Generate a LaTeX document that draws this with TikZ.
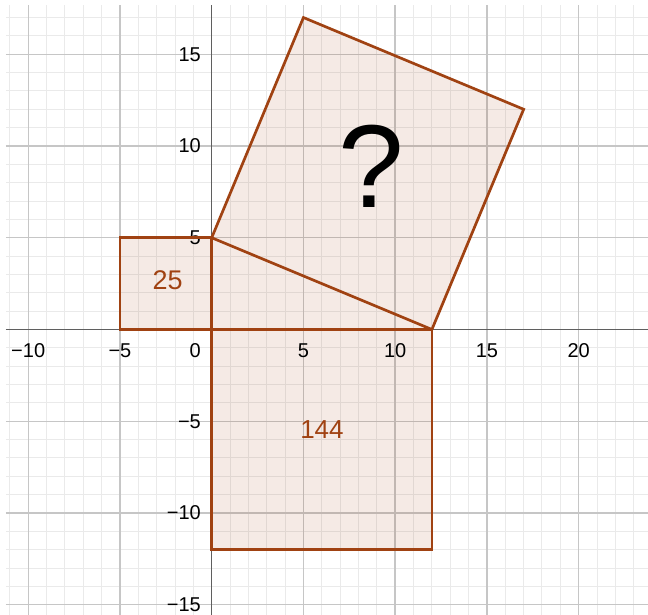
\documentclass[tikz,border=0pt]{standalone}
\usepackage{fontspec}
\setmainfont{Liberation Sans}
\definecolor{poly}{RGB}{160,66,18}
\definecolor{majg}{RGB}{198,198,198}
\definecolor{ming}{RGB}{234,234,234}
\definecolor{axisc}{RGB}{95,95,95}
\tikzset{
  minorline/.style={ming, line width=1pt},
  majorline/.style={majg, line width=1.4pt},
  axisline/.style={axisc, line width=1.5pt},
  polyfill/.style={fill=poly, fill opacity=0.11},
  polyline/.style={draw=poly, line width=2.7pt, line join=miter},
  ticklabel/.style={inner sep=0pt, font=\fontsize{20}{24}\selectfont},
  arealabel/.style={inner sep=0pt, text=poly},
}
\begin{document}
\begin{tikzpicture}[x=18.35pt, y=18.35pt]
\useasboundingbox (-11.537,-15.558) rectangle (23.777,17.956);
\def\gl{-11.21} \def\gr{23.777} \def\gb{-15.558} \def\gt{17.68}
% minor grid
\foreach \i in {-11,...,23} \draw[minorline] (\i,\gb) -- (\i,\gt);
\foreach \j in {-15,...,17} \draw[minorline] (\gl,\j) -- (\gr,\j);
% major grid
\foreach \i in {-10,-5,...,20} \draw[majorline] (\i,\gb) -- (\i,\gt);
\foreach \j in {-15,-10,...,15} \draw[majorline] (\gl,\j) -- (\gr,\j);
% axes
\draw[axisline] (\gl,0) -- (\gr,0);
\draw[axisline] (0,\gb) -- (0,\gt);
% fills
\fill[polyfill] (-5,0) rectangle (0,5);
\fill[polyfill] (0,0) rectangle (12,-12);
\fill[polyfill] (0,0) -- (12,0) -- (0,5) -- cycle;
\fill[polyfill] (0,5) -- (12,0) -- (17,12) -- (5,17) -- cycle;
% tick labels
\foreach \v/\t in {-10/−10,-5/−5,5/5,10/10,15/15,20/20}{%
  \node[ticklabel, anchor=center] (xl\v) at (\v,-1.13) {\t};}
\foreach \v/\t in {15/15,10/10,5/5,-5/−5,-10/−10,-15/−15}{%
  \node[ticklabel, anchor=east] (yl\v) at (-0.58,\v) {\t};}
\node[ticklabel, anchor=east] (o) at (-0.58,-1.13) {0};
% outlines
\draw[polyline] (-5,0) -- (0,0) -- (0,5) -- (-5,5) -- cycle;
\draw[polyline] (0,0) -- (12,0) -- (12,-12) -- (0,-12) -- cycle;
\draw[polyline] (0,5) -- (12,0) -- (17,12) -- (5,17) -- cycle;
% area labels
\node[arealabel, font=\fontsize{27}{32}\selectfont] (a25) at (-2.4,2.66) {25};
\node[arealabel, font=\fontsize{26}{31}\selectfont] (a144) at (6.01,-5.46) {144};
\node[inner sep=0pt, font=\fontsize{118}{130}\selectfont] (q) at (8.72,8.91) {?};
\end{tikzpicture}
\end{document}
